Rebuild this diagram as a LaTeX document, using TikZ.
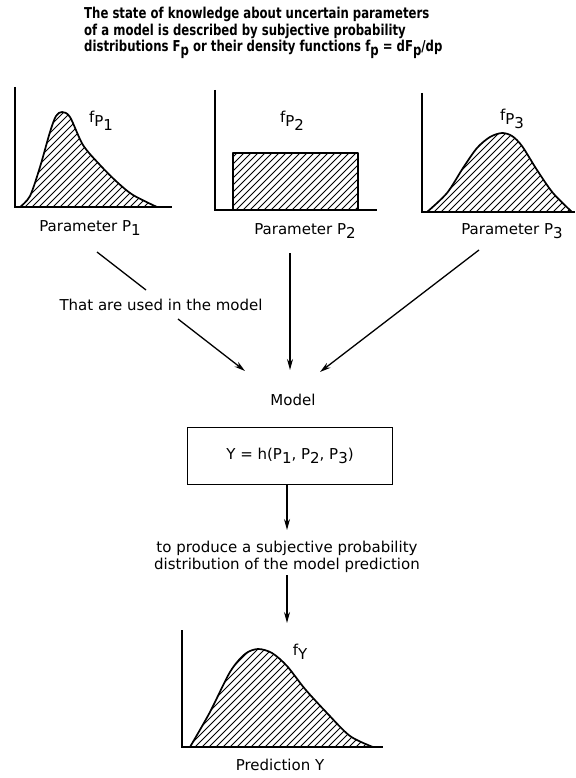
\documentclass[tikz,border=0pt]{standalone}
\usepackage{fontspec}
\setmainfont{DejaVu Sans}
\newfontfamily\hdfont{DejaVu Sans}[FakeStretch=0.78]
\usetikzlibrary{arrows.meta}
\newcommand{\dn}[1]{\raisebox{-0.5ex}{#1}}
\tikzset{
  txt/.style={font=\fontsize{15}{17}\selectfont, inner sep=1pt},
  hd/.style={font=\hdfont\fontsize{15}{16.5}\selectfont\bfseries, inner sep=0pt, align=left, anchor=north west},
  axisline/.style={line width=1.6pt},
  curve/.style={line width=1.7pt, line join=round},
  hatch/.style={line width=0.9pt},
  conn/.style={line width=1.3pt},
  arr/.style={conn, -{Stealth[length=11pt,width=6pt]}},
}
\begin{document}
\begin{tikzpicture}[x=1pt,y=-1pt]
\useasboundingbox (0,0) rectangle (575,778);
\node[hd] (hdr) at (84,7) {The state of knowledge about uncertain parameters\\
of a model is described by subjective probability\\
distributions F\dn{p} or their density functions f\dn{p} = dF\dn{p}/dp};
\foreach \ax/\ay/\by/\bx in {15/87/207/172, 215/90/210/377, 422/93/212/575, 182/630/747/383}
  \draw[axisline] (\ax,\ay) -- (\ax,\by) -- (\bx,\by);
\def\curveA{(20,207) (30,196) (40,167) (50,132) (56,116) (62,112) (70,117) (83,145) (100,165) (117,182) (133,195) (157,207)}
\def\curveC{(427,212) (447,193) (463,168) (477,148) (490,137) (502,133) (512,136) (522,146) (537,170) (553,193) (572,212)}
\def\curveY{(190,747) (210,712) (230,672) (245,654) (258,649) (272,653) (287,666) (305,689) (327,713) (350,736) (373,747)}
\begin{scope}
  \clip plot[smooth] coordinates {\curveA} -- cycle;
  \foreach \i in {-80,-73,...,160} \draw[hatch] (\i,207) -- ++(100,-100);
\end{scope}
\draw[curve] plot[smooth] coordinates {\curveA};
\begin{scope}
  \clip (233,210) rectangle (358,153);
  \foreach \i in {180,187,...,360} \draw[hatch] (\i,210) -- ++(60,-60);
\end{scope}
\draw[curve] (233,210) rectangle (358,153);
\begin{scope}
  \clip plot[smooth] coordinates {\curveC} -- cycle;
  \foreach \i in {350,357,...,580} \draw[hatch] (\i,212) -- ++(85,-85);
\end{scope}
\draw[curve] plot[smooth] coordinates {\curveC};
\begin{scope}
  \clip plot[smooth] coordinates {\curveY} -- cycle;
  \foreach \i in {90,97,...,380} \draw[hatch] (\i,747) -- ++(100,-100);
\end{scope}
\draw[curve] plot[smooth] coordinates {\curveY};
\node[txt] (f1) at (101,121) {f\dn{P\dn{1}}};
\node[txt] (f2) at (292,121) {f\dn{P\dn{2}}};
\node[txt] (f3) at (512,119) {f\dn{P\dn{3}}};
\node[txt] (fy) at (300,652) {f\dn{Y}};
\node[txt] (lab1) at (90,228) {Parameter P\dn{1}};
\node[txt] (lab2) at (305,231) {Parameter P\dn{2}};
\node[txt] (lab3) at (512,231) {Parameter P\dn{3}};
\node[txt] (used) at (161,305) {That are used in the model};
\node[txt] (model) at (293,400) {Model};
\node[txt, draw, line width=1.3pt, minimum width=205pt, minimum height=57pt] (box) at (290,456)
  {Y = h(P\dn{1}, P\dn{2}, P\dn{3})};
\node[txt, align=center] (prod) at (287,557) {to produce a subjective probability\\distribution of the model prediction};
\node[txt] (pred) at (280,765) {Prediction Y};
\coordinate (s1) at (97,252);
\coordinate (e1) at (146,290);
\coordinate (s2) at (178,319);
\coordinate (t1) at (245,371);
\coordinate (s3) at (290,253);
\coordinate (t2) at (290,370);
\coordinate (s4) at (479,250);
\coordinate (t3) at (320,372);
\coordinate (t4) at (287,530);
\coordinate (s5) at (287,575);
\coordinate (t5) at (287,623);
\draw[conn] (s1) -- (e1);
\draw[arr] (s2) -- (t1);
\draw[arr] (s3) -- (t2);
\draw[arr] (s4) -- (t3);
\draw[arr] (box.south -| t4) -- (t4);
\draw[arr] (s5) -- (t5);
\end{tikzpicture}
\end{document}
